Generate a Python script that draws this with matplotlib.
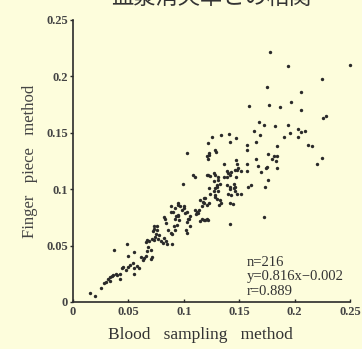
import matplotlib
matplotlib.use("Agg")
import matplotlib.pyplot as plt

title = "血漿消失率との相関"
xlabel = "Blood   sampling   method"
ylabel = "Finger   piece   method"
ticks = [0, 0.05, 0.1, 0.15, 0.2, 0.25]
tick_labels = ["0", "0.05", "0.1", "0.15", "0.2", "0.25"]
stats_text = ["n=216", "y=0.816x\u22120.002", "r=0.889"]

x_low = [0.015, 0.020, 0.025, 0.028, 0.030, 0.033, 0.032, 0.033, 0.035, 0.036, 0.039, 0.040, 0.042, 0.042,
         0.037, 0.049, 0.044, 0.045, 0.048, 0.050, 0.051, 0.054, 0.055, 0.055, 0.058, 0.060, 0.050, 0.055,
         0.061, 0.063, 0.064, 0.066, 0.067, 0.070, 0.071, 0.068, 0.070, 0.066, 0.067, 0.069, 0.071, 0.073,
         0.074, 0.072, 0.073, 0.076, 0.075, 0.077, 0.078, 0.079, 0.081, 0.082, 0.084, 0.085, 0.088, 0.089,
         0.089, 0.091, 0.093, 0.094, 0.095, 0.096, 0.082, 0.084]
y_low = [0.008, 0.005, 0.012, 0.017, 0.018, 0.019, 0.020, 0.022, 0.023, 0.024, 0.025, 0.024, 0.025, 0.020,
         0.046, 0.051, 0.030, 0.031, 0.028, 0.031, 0.033, 0.035, 0.025, 0.030, 0.032, 0.030, 0.041, 0.044,
         0.040, 0.037, 0.039, 0.041, 0.045, 0.038, 0.040, 0.049, 0.046, 0.053, 0.055, 0.054, 0.056, 0.055,
         0.058, 0.063, 0.067, 0.064, 0.060, 0.056, 0.059, 0.054, 0.052, 0.057, 0.054, 0.051, 0.061, 0.051,
         0.060, 0.067, 0.076, 0.068, 0.086, 0.073, 0.075, 0.070]

x_mid = [0.103, 0.121, 0.122, 0.129, 0.108, 0.110, 0.099, 0.122, 0.127, 0.136, 0.139, 0.140, 0.142, 0.143,
         0.146, 0.148, 0.149, 0.131, 0.133, 0.130, 0.128, 0.127, 0.128, 0.139, 0.142, 0.145, 0.146, 0.130,
         0.133, 0.134, 0.132, 0.142, 0.144, 0.142, 0.115, 0.118, 0.116, 0.121, 0.123, 0.119, 0.110, 0.112,
         0.114, 0.113, 0.111, 0.116, 0.118, 0.119, 0.121, 0.122, 0.115, 0.088, 0.090, 0.092, 0.095, 0.097,
         0.098, 0.100, 0.101, 0.103, 0.104, 0.106, 0.103, 0.106, 0.102, 0.103, 0.095, 0.092, 0.086, 0.147]
y_mid = [0.132, 0.129, 0.127, 0.133, 0.113, 0.111, 0.105, 0.113, 0.114, 0.122, 0.116, 0.114, 0.113, 0.115,
         0.117, 0.122, 0.119, 0.108, 0.105, 0.104, 0.101, 0.098, 0.095, 0.104, 0.102, 0.105, 0.102, 0.091,
         0.090, 0.088, 0.086, 0.088, 0.087, 0.069, 0.090, 0.088, 0.085, 0.086, 0.088, 0.092, 0.082, 0.080,
         0.082, 0.079, 0.078, 0.074, 0.073, 0.073, 0.074, 0.073, 0.072, 0.085, 0.080, 0.083, 0.088, 0.085,
         0.082, 0.083, 0.079, 0.080, 0.074, 0.076, 0.071, 0.067, 0.064, 0.061, 0.076, 0.064, 0.064, 0.126]

x_high = [0.178, 0.194, 0.250, 0.225, 0.175, 0.206, 0.159, 0.177, 0.187, 0.197, 0.206, 0.226, 0.228, 0.168,
          0.172, 0.182, 0.194, 0.203, 0.206, 0.209, 0.196, 0.203, 0.190, 0.163, 0.169, 0.165, 0.212, 0.216,
          0.184, 0.157, 0.157, 0.141, 0.134, 0.125, 0.142, 0.147, 0.122, 0.128, 0.123, 0.123, 0.225, 0.220,
          0.176, 0.181, 0.183, 0.184, 0.180, 0.165, 0.184, 0.174, 0.175, 0.167, 0.157, 0.152, 0.148, 0.157,
          0.170, 0.176, 0.173, 0.161, 0.158, 0.139, 0.136, 0.131, 0.128, 0.124, 0.121, 0.147, 0.145, 0.142,
          0.140, 0.143, 0.146, 0.148, 0.152, 0.127, 0.130, 0.131, 0.124, 0.123, 0.118, 0.128]
y_high = [0.222, 0.209, 0.210, 0.198, 0.191, 0.186, 0.174, 0.175, 0.173, 0.177, 0.170, 0.163, 0.165, 0.160,
          0.157, 0.156, 0.157, 0.153, 0.151, 0.152, 0.150, 0.146, 0.146, 0.152, 0.148, 0.142, 0.139, 0.138,
          0.138, 0.139, 0.135, 0.149, 0.148, 0.146, 0.142, 0.145, 0.141, 0.135, 0.132, 0.130, 0.128, 0.122,
          0.131, 0.129, 0.125, 0.129, 0.127, 0.127, 0.119, 0.119, 0.120, 0.121, 0.122, 0.116, 0.117, 0.116,
          0.115, 0.108, 0.102, 0.104, 0.102, 0.111, 0.111, 0.111, 0.113, 0.112, 0.113, 0.111, 0.101, 0.100,
          0.096, 0.095, 0.098, 0.096, 0.096, 0.107, 0.102, 0.098, 0.096, 0.101, 0.092, 0.093]

x_extra = [0.172, 0.100, 0.095, 0.092, 0.105, 0.088, 0.083, 0.076, 0.073, 0.117]
y_extra = [0.075, 0.085, 0.077, 0.074, 0.074, 0.080, 0.074, 0.067, 0.065, 0.089]

bg = "#fdfddc"
ink = "#2a2a2a"
serif = ["Liberation Serif", "DejaVu Serif"]

fig = plt.figure(figsize=(3.62, 3.49), dpi=100, facecolor=bg)
ax = fig.add_axes([73 / 362, 1 - 302 / 349, 277 / 362, 282 / 349], facecolor=bg)

xs = x_low + x_mid + x_high + x_extra
ys = y_low + y_mid + y_high + y_extra
ax.scatter(xs, ys, s=6, color=ink, linewidths=0, clip_on=False, zorder=3)

ax.set_xlim(0, 0.25)
ax.set_ylim(0, 0.25)
for s in ["top", "right"]:
    ax.spines[s].set_visible(False)
for s in ["left", "bottom"]:
    ax.spines[s].set_color(ink)
    ax.spines[s].set_linewidth(1.2)

ax.set_xticks(ticks)
ax.set_xticklabels(tick_labels)
ax.set_yticks(ticks)
ax.set_yticklabels(tick_labels)
ax.tick_params(axis="x", direction="in", length=2.5, width=1, color=ink, pad=3, labelcolor="#444444")
ax.tick_params(axis="y", direction="out", length=2, width=1, color=ink, pad=1.5, labelcolor="#444444")
for lab in ax.get_xticklabels() + ax.get_yticklabels():
    lab.set_fontfamily(serif)
    lab.set_fontsize(9)
    lab.set_fontweight("bold")

ax.set_xlabel(xlabel, fontfamily=serif, fontsize=12.5, color="#333333")
ax.xaxis.set_label_coords(0.46, -0.087)
ax.set_ylabel(ylabel, fontfamily=serif, fontsize=12, color="#444444", labelpad=6)

for i, t in enumerate(stats_text):
    ax.text(0.157, 0.035 - i * 0.0128, t, fontfamily=serif, fontsize=10.5, color="#333333",
            va="center", ha="left")

fig.text(211 / 362, 1 + 2 / 349, title, fontsize=16, color="#333333", ha="center", va="center",
         fontfamily=["Noto Sans CJK JP", "DejaVu Sans"])

fig.savefig("out.png", dpi=100, facecolor=bg)
